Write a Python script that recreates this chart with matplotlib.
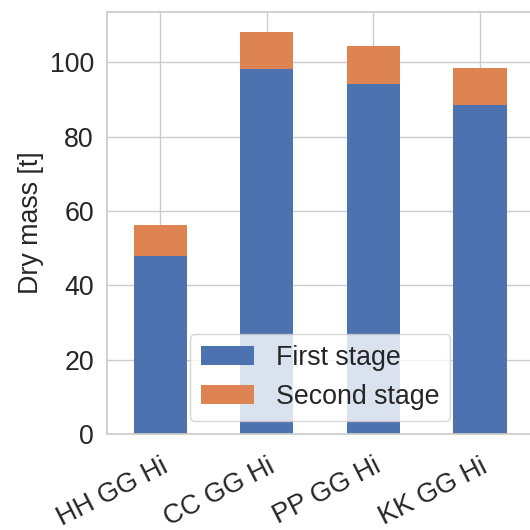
import matplotlib
matplotlib.use('Agg')
import matplotlib.pyplot as plt
import numpy as np
import seaborn as sns

######################################################################### data

CONFIGS = ['HH GG Hi', 'CC GG Hi', 'PP GG Hi', 'KK GG Hi']
FIRST_STAGE = [48.0, 98.2, 94.2, 88.4]
SECOND_STAGE = [8.2, 10.0, 10.1, 10.1]

######################################################################## style

sns.set_theme(style='whitegrid')
plt.rcParams['font.family'] = ['Liberation Sans', 'DejaVu Sans']
FS = 19.3

####################################################################### figure

fig = plt.figure(figsize=(5.3, 5.3), dpi=100)
ax = fig.add_axes([0.202, 0.181, 0.804, 0.797])

x = np.arange(len(CONFIGS))
ax.bar(x, FIRST_STAGE, width=0.5, color='#4C72B0', linewidth=0,
       label='First stage', zorder=2)
ax.bar(x, SECOND_STAGE, width=0.5, bottom=FIRST_STAGE, color='#DD8452',
       linewidth=0, label='Second stage', zorder=2)

ax.set_xlim(-0.5, len(CONFIGS) - 0.5)
ax.set_ylim(0, 113.6)
ax.set_xticks(x)
ax.set_xticklabels(CONFIGS, rotation=27, ha='right', rotation_mode='anchor', fontsize=FS)
ax.tick_params(axis='x', pad=8)
ax.set_yticks([0, 20, 40, 60, 80, 100])
ax.tick_params(axis='y', labelsize=FS)
ax.set_ylabel('Dry mass [t]', fontsize=FS)
ax.legend(loc='lower center', fontsize=FS)

fig.savefig('out.png', dpi=100)
